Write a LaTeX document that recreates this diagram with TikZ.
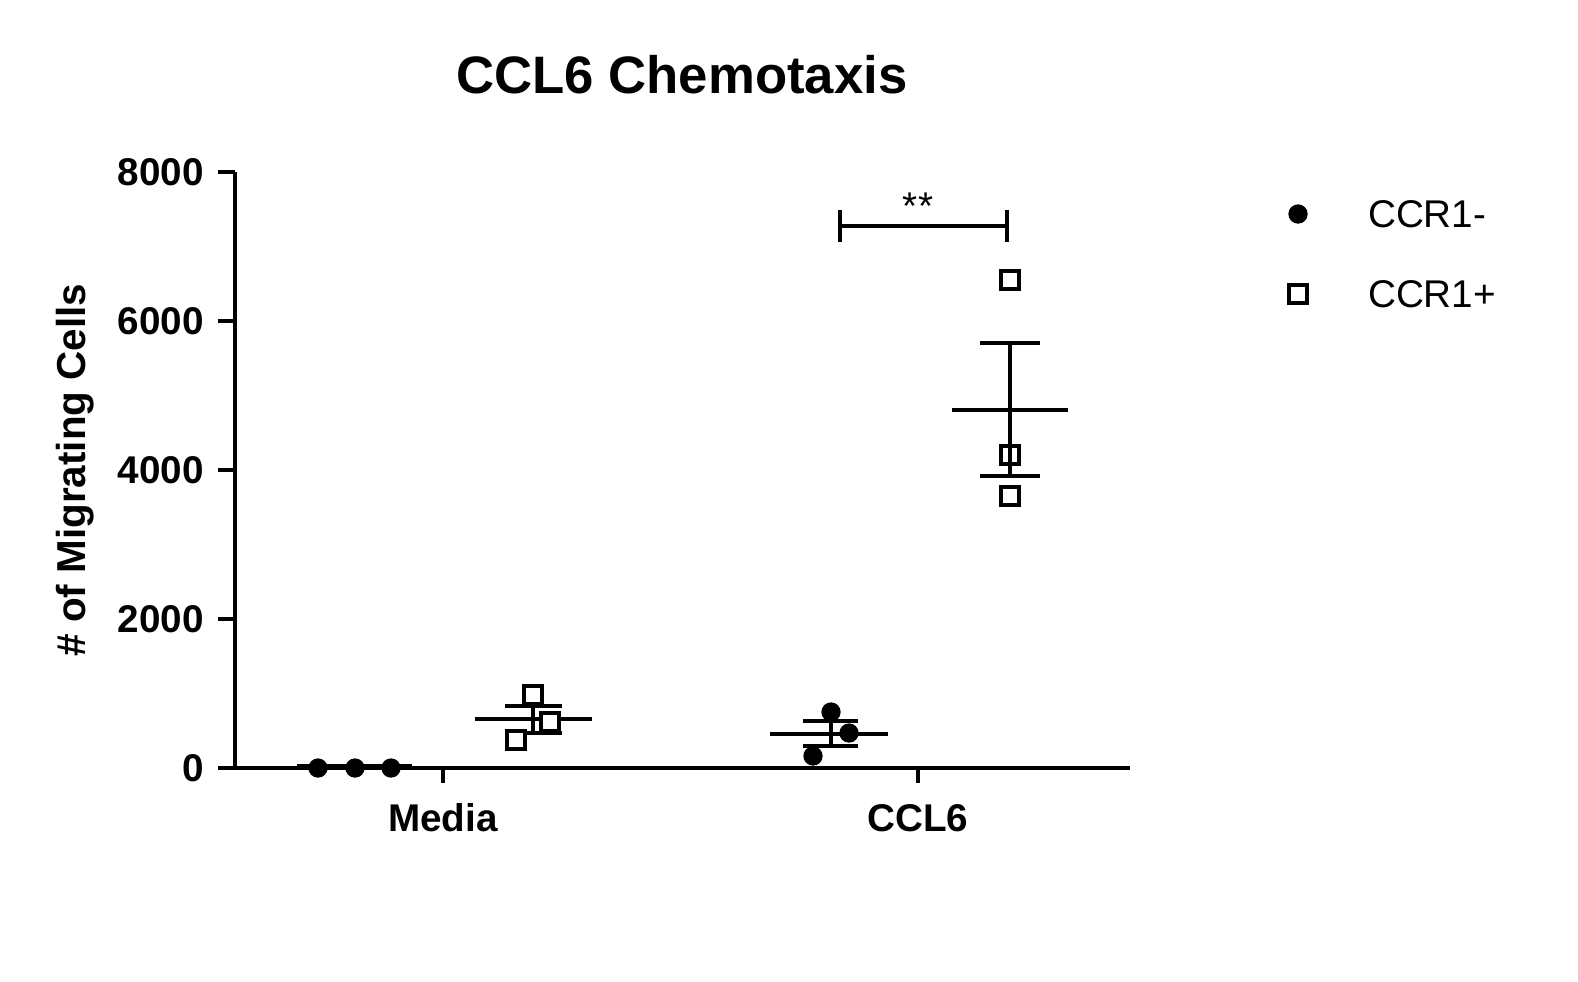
\documentclass[tikz,border=0pt]{standalone}
\usepackage{fontspec}
\setmainfont{Liberation Sans}
\begin{document}
\begin{tikzpicture}[x=0.02cm,y=-0.02cm,line width=2.6pt,
  dot/.style={circle,fill=black,inner sep=0pt,minimum size=11pt},
  sq/.style={draw=black,fill=white,line width=2.2pt,inner sep=0pt,minimum size=10pt},
  lbl/.style={font=\bfseries\fontsize{22}{24}\selectfont},
  leg/.style={font=\fontsize{22}{24}\selectfont,anchor=west}]
\useasboundingbox (0,0) rectangle (1578,981);
\node[font=\bfseries\fontsize{30}{32}\selectfont] (title) at (682,75) {CCL6 Chemotaxis};
% axes
\coordinate (ytop) at (235,172);
\coordinate (orig) at (235,768);
\coordinate (xend) at (1130,768);
\draw (ytop) -- (orig);
\draw (218,768) -- (xend);
\foreach \v/\y in {8000/172,6000/321,4000/470,2000/619,0/768}{
  \draw (218,\y) -- (235,\y);
  \node[lbl,anchor=east] at (212,\y) {\v};
}
\draw (443,768) -- (443,783);
\draw (918,768) -- (918,783);
\node[lbl] (media) at (443,818) {Media};
\node[lbl] (ccl) at (918,818) {CCL6};
\node[lbl,rotate=90,font=\bfseries\fontsize{23}{25}\selectfont] (ylab) at (75,470) {\# of Migrating Cells};
% Media CCR1-
\draw (297,766) -- (412,766);
\foreach \x in {318,355,391} \node[dot] at (\x,768) {};
% Media CCR1+
\draw (505,706) -- (562,706);
\draw (533,706) -- (533,733);
\draw (505,733) -- (562,733);
\draw (475,719) -- (592,719);
\node[sq] at (533,695) {};
\node[sq] at (550,722) {};
\node[sq] at (516,740) {};
% CCL6 CCR1-
\draw (803,721) -- (858,721);
\draw (831,721) -- (831,746);
\draw (803,746) -- (858,746);
\draw (770,734) -- (888,734);
\node[dot] at (831,712) {};
\node[dot] at (849,733) {};
\node[dot] at (813,756) {};
% CCL6 CCR1+
\node[sq] at (1010,280) {};
\node[sq] at (1010,455) {};
\node[sq] at (1010,496) {};
\draw (980,343) -- (1040,343);
\draw (1010,343) -- (1010,476);
\draw (980,476) -- (1040,476);
\draw (952,410) -- (1068,410);
% significance
\draw (840,226) -- (1007,226);
\draw (840,210) -- (840,242);
\draw (1007,210) -- (1007,242);
\node[font=\fontsize{22}{24}\selectfont] (star) at (918,206) {**};
% legend
\node[dot] (l1) at (1298,214) {};
\node[leg] at (1360,214) {CCR1-};
\node[sq] (l2) at (1298,294) {};
\node[leg] at (1360,294) {CCR1+};
\end{tikzpicture}
\end{document}
